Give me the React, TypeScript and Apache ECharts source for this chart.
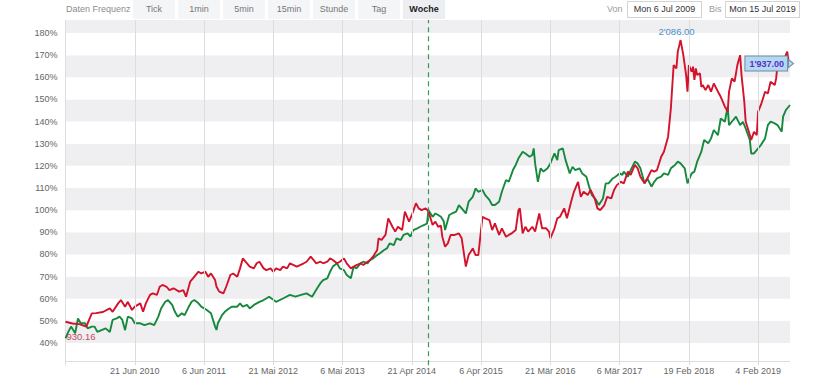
import React, { useEffect, useRef } from "react";
import * as echarts from "echarts";

// ---- data -----------------------------------------------------------
const xTickLabels = [
  "21 Jun 2010",
  "6 Jun 2011",
  "21 Mai 2012",
  "6 Mai 2013",
  "21 Apr 2014",
  "6 Apr 2015",
  "21 Mär 2016",
  "6 Mär 2017",
  "19 Feb 2018",
  "4 Feb 2019",
];
const tickStepWeeks = 50;
const lastWeek = 523;
const markerWeek = 262;
const yLabelMin = 40;
const yLabelMax = 180;

const frequencies = ["Tick", "1min", "5min", "15min", "Stunde", "Tag", "Woche"];
const activeFrequency = "Woche";
const fromDate = "Mon 6 Jul 2009";
const toDate = "Mon 15 Jul 2019";

const peakLabel = "2'086.00";
const lastLabel = "1'937.00";
const startLabel = "930.16";

// [week index, percent]
const redSeries: [number, number][] = [
  [0, 49.6], [5, 48.8], [10, 48.5], [15, 47.4], [19, 53.4], [22, 53.5], [27, 54], [32, 55.6],
  [34, 54.1], [38, 57.9], [40, 59.4], [43, 56.4], [45, 58.6], [48, 54.9], [50, 56.4], [54, 57.9],
  [56, 54.1], [58, 57.9], [61, 61.7], [63, 62.4], [66, 61.7], [68, 65.4], [70, 66.2], [73, 65.4],
  [75, 63.9], [78, 64.7], [82, 63.2], [85, 63.9], [87, 60.9], [90, 67.7], [92, 69.2], [96, 72.2],
  [98, 71.4], [101, 72.2], [103, 69.9], [105, 71.4], [108, 68.4], [109, 65.4], [111, 63.2], [114, 62.4],
  [116, 65.4], [119, 70.7], [121, 71.4], [124, 69.9], [126, 73.7], [128, 78.2], [131, 76], [133, 74.5],
  [136, 73.7], [138, 76], [140, 76.7], [143, 73.7], [145, 72.9], [148, 73.7], [150, 72.2], [152, 73.7],
  [155, 72.9], [157, 74.5], [160, 73.7], [162, 76], [167, 74.5], [172, 76], [174, 76.7], [177, 79],
  [179, 77.5], [181, 76], [184, 76.7], [186, 76], [189, 76.7], [191, 78.2], [193, 77.5], [196, 76],
  [198, 76.7], [201, 78.2], [203, 76], [206, 73.7], [208, 74.5], [210, 75.2], [213, 76], [215, 75.2],
  [218, 76.7], [220, 77.5], [222, 79], [225, 82], [226, 87.3], [228, 86.5], [231, 88.8], [233, 96.3],
  [236, 92.5], [238, 90.3], [240, 92.5], [243, 91], [245, 99.3], [248, 94.8], [250, 97.8], [253, 103.1],
  [255, 100.8], [257, 100], [260, 100.8], [262, 99.5], [265, 93.3], [267, 94.8], [269, 92.5], [271, 93],
  [272, 88], [274, 83.5], [276, 85], [278, 88.8], [281, 88.8], [284, 89.5], [286, 87.3], [289, 74.5],
  [291, 79.7], [294, 82.7], [296, 79.7], [298, 79.7], [301, 97], [303, 96.3], [306, 95.5], [308, 91],
  [310, 94], [313, 88.8], [315, 91.8], [318, 88], [320, 88.8], [322, 89.5], [325, 91], [327, 100],
  [328, 100.8], [330, 89.5], [332, 92.5], [334, 90.3], [337, 92.5], [339, 90.3], [342, 98.5], [344, 91.8],
  [347, 91.8], [349, 90.3], [350, 87.3], [353, 91.8], [355, 96.3], [357, 97], [360, 100.8], [362, 96.3],
  [365, 103.8], [367, 108.3], [370, 112.8], [372, 106], [374, 108.3], [377, 106.8], [379, 109.1], [382, 105.3],
  [384, 100.8], [386, 100], [389, 102.3], [391, 106], [394, 105.3], [396, 109.1], [398, 111.3], [401, 112.8],
  [403, 112.1], [406, 117.4], [408, 115.9], [411, 120.4], [413, 118.9], [415, 115.1], [418, 112.1], [420, 114.3],
  [423, 118.1], [425, 117.4], [427, 118.1], [430, 124.1], [432, 126.4], [435, 133.2], [437, 146], [439, 165.5],
  [441, 164], [442, 171.6], [444, 176.8], [446, 170], [448, 161], [449, 153.5], [450, 165.5], [452, 162.5],
  [453, 164.8], [454, 158.8], [455, 164], [456, 161], [458, 161.8], [459, 155.7], [460, 156.5], [462, 154.2],
  [464, 156.5], [466, 153.5], [468, 157.2], [471, 153.5], [473, 151.2], [476, 146.7], [478, 144.5], [479, 153.5],
  [481, 159.5], [483, 158], [485, 165.5], [487, 170], [488, 161], [490, 149], [491, 140], [494, 133.9],
  [495, 131.7], [497, 135.4], [499, 133.9], [500, 144.5], [502, 147.5], [505, 153.5], [507, 152.7], [509, 158],
  [512, 156.5], [513, 159.5], [514, 165.5], [517, 169.3], [519, 168.5], [521, 171.6], [522, 167], [523, 166.2],
];

const greenSeries: [number, number][] = [
  [0, 42.1], [2, 45], [4, 47.4], [7, 44.4], [9, 51.1], [11, 48.9], [14, 48.9], [16, 46.6],
  [19, 47.4], [21, 47.4], [23, 45], [26, 45.8], [29, 46.6], [32, 45], [34, 50.4], [37, 51.1],
  [39, 51.9], [41, 50.4], [43, 45.8], [45, 51.9], [48, 51.1], [50, 48.9], [54, 48.9], [57, 48.1],
  [61, 48.9], [64, 48.1], [67, 51.9], [69, 55.6], [72, 58.6], [74, 59.4], [77, 57.2], [79, 54.1],
  [81, 51.9], [84, 53.4], [86, 52.6], [89, 56.4], [91, 58.6], [93, 59.4], [96, 57.9], [98, 56.4],
  [102, 54.9], [105, 53.4], [108, 47.4], [109, 45.9], [110, 48.9], [113, 52.6], [115, 54.1], [118, 55.6],
  [120, 56.4], [124, 56.4], [126, 57.9], [128, 56.4], [131, 57.2], [133, 55.6], [136, 57.2], [138, 57.9],
  [140, 58.6], [143, 59.4], [147, 60.9], [152, 58.6], [157, 60.1], [162, 61.7], [166, 60.9], [170, 61.7],
  [174, 62.4], [178, 60.9], [181, 64], [184, 67], [186, 68.4], [189, 69.2], [191, 72.2], [193, 74.5],
  [196, 76], [198, 73.7], [201, 72.9], [203, 70.7], [206, 69.2], [208, 74.5], [210, 73.7], [213, 76],
  [215, 76.7], [218, 76], [220, 77.5], [222, 78.2], [225, 79.7], [227, 80.5], [230, 82], [232, 82.7],
  [234, 85], [237, 84.2], [239, 87.3], [242, 86.5], [244, 88.8], [247, 89.5], [249, 88], [251, 91],
  [254, 91.8], [256, 92.5], [259, 93.3], [261, 94], [262, 100], [265, 97], [267, 98.5], [269, 97.8],
  [271, 97], [273, 95], [274, 91], [277, 97.8], [279, 98.5], [282, 99.3], [284, 102.3], [286, 100.8],
  [289, 98.5], [291, 103.8], [294, 106], [296, 109.8], [298, 108.3], [301, 109.1], [303, 106.8], [306, 104.6],
  [308, 102.3], [310, 102.3], [313, 103.8], [315, 108.3], [318, 113.6], [320, 112.8], [323, 118.1], [325, 120.4],
  [327, 123.4], [330, 126.4], [332, 125.6], [335, 124.1], [337, 124.9], [338, 127.9], [339, 121.1], [341, 112.8],
  [343, 118.9], [345, 117.4], [348, 118.9], [350, 121.1], [353, 125.6], [355, 122.6], [356, 127.1], [359, 127.9],
  [361, 122.6], [364, 116.6], [366, 119.6], [368, 118.1], [371, 118.9], [373, 116.6], [376, 115.1], [378, 110.6],
  [380, 106.8], [383, 104.6], [385, 102.3], [388, 105.3], [390, 112.1], [392, 112.1], [395, 114.3], [397, 115.1],
  [400, 116.6], [402, 115.9], [403, 117.4], [406, 115.1], [408, 118.1], [411, 121.9], [413, 121.1], [415, 118.9],
  [418, 112.1], [420, 114.3], [423, 110.6], [425, 112.8], [427, 114.3], [430, 115.1], [432, 116.6], [435, 115.9],
  [437, 118.9], [440, 120.4], [442, 121.9], [444, 121.1], [447, 118.9], [449, 112.1], [452, 116.6], [454, 117.4],
  [456, 121.9], [459, 126.4], [461, 131.7], [464, 130.2], [466, 132.4], [468, 136.2], [471, 133.9], [473, 141.4],
  [476, 139.9], [478, 146.7], [479, 138.4], [482, 140.7], [484, 142.2], [487, 138.4], [489, 139.9], [491, 136.9],
  [494, 131.7], [495, 125.6], [497, 125.6], [500, 127.9], [502, 129.4], [505, 132.4], [507, 138.4], [509, 140],
  [512, 139.2], [514, 138.4], [517, 135.4], [518, 142.2], [520, 145.2], [522, 146.7], [523, 147.5],
];

// ---- styles -----------------------------------------------------------
const FONT = "'Liberation Sans', Arial, Helvetica, sans-serif";
const RED = "#d3122c";
const GREEN = "#16893c";

function peakPoint(data: [number, number][]) {
  let best = data[0];
  for (const p of data) if (p[1] > best[1]) best = p;
  return best;
}

export default function App() {
  const ref = useRef<HTMLDivElement>(null);

  useEffect(() => {
    if (!ref.current) return;
    const chart = echarts.init(ref.current, undefined, { renderer: "svg" });
    const tickWeeks = xTickLabels.map((_, i) => (i + 1) * tickStepWeeks);
    const peak = peakPoint(redSeries);
    const lastRed = redSeries[redSeries.length - 1];
    const firstGreen = greenSeries[0];

    chart.setOption({
      animation: false,
      textStyle: { fontFamily: FONT },
      grid: { left: 65.5, top: 10.86, width: 724.5, height: 354.28, containLabel: false },
      xAxis: {
        type: "value",
        min: 0,
        max: lastWeek,
        interval: tickStepWeeks,
        axisLine: { show: false },
        axisTick: { show: false },
        splitLine: { show: false },
        axisLabel: {
          margin: 1,
          fontSize: 9,
          color: "#666",
          fontFamily: FONT,
          formatter: (v: number) => {
            const i = v / tickStepWeeks;
            if (v > 0 && Number.isInteger(i) && i <= xTickLabels.length) return xTickLabels[i - 1];
            return "";
          },
        },
      },
      yAxis: {
        type: "value",
        min: 30,
        max: 190,
        interval: 10,
        axisLine: { show: true, lineStyle: { color: "#dddddd" } },
        axisTick: { show: false },
        splitLine: { show: false },
        splitArea: { show: true, areaStyle: { color: ["#ffffff", "#efeff1"] } },
        axisLabel: {
          margin: 8,
          fontSize: 9,
          color: "#666",
          fontFamily: FONT,
          formatter: (v: number) => (v >= yLabelMin && v <= yLabelMax ? v + "%" : ""),
        },
      },
      series: [
        {
          type: "line",
          name: "gridlines",
          data: [],
          z: 1,
          silent: true,
          markLine: {
            silent: true,
            symbol: "none",
            label: { show: false },
            lineStyle: { color: "#dcdcdc", width: 1, type: "solid" },
            data: [...tickWeeks.map((w) => ({ xAxis: w })), { yAxis: 31.55 }],
          },
        },
        {
          type: "line",
          name: "red",
          data: redSeries,
          showSymbol: false,
          symbol: "none",
          z: 3,
          lineStyle: { color: RED, width: 1.9 },
          itemStyle: { color: RED },
          markPoint: {
            silent: true,
            symbol: "circle",
            symbolSize: 0,
            data: [
              {
                coord: peak,
                label: {
                  show: true,
                  position: "top",
                  distance: 4,
                  offset: [-4, 0],
                  formatter: peakLabel,
                  color: "#4a90c8",
                  fontSize: 9.5,
                  fontFamily: FONT,
                },
              },
              {
                coord: lastRed,
                symbol: "triangle",
                symbolSize: [8, 5],
                symbolRotate: -90,
                symbolOffset: [1, 0],
                itemStyle: { color: "#b3d9f2", borderColor: "#6d8aa3", borderWidth: 1 },
                label: {
                  show: true,
                  position: "left",
                  distance: 1,
                  formatter: lastLabel,
                  color: "#5a2dc8",
                  fontWeight: "bold",
                  fontSize: 9,
                  fontFamily: FONT,
                  backgroundColor: "#b3d9f2",
                  borderColor: "#6d8aa3",
                  borderWidth: 1,
                  padding: [3, 3, 2, 4],
                },
              },
            ],
          },
        },
        {
          type: "line",
          name: "green",
          data: greenSeries,
          showSymbol: false,
          symbol: "none",
          z: 2,
          lineStyle: { color: GREEN, width: 1.9 },
          itemStyle: { color: GREEN },
          markLine: {
            silent: true,
            symbol: "none",
            label: { show: false },
            lineStyle: { color: "#2f9e5a", width: 1.2, type: [5, 4] },
            data: [{ xAxis: markerWeek }],
          },
          markPoint: {
            silent: true,
            symbol: "circle",
            symbolSize: 0,
            data: [
              {
                coord: [firstGreen[0], firstGreen[1] + 1],
                label: {
                  show: true,
                  position: "right",
                  distance: 1,
                  formatter: startLabel,
                  color: "#c24a5c",
                  fontSize: 9.5,
                  fontFamily: FONT,
                },
              },
            ],
          },
        },
      ],
    });
    return () => chart.dispose();
  }, []);

  const btnStyle = (active: boolean, i: number): React.CSSProperties => ({
    position: "absolute",
    left: 133 + 45 * i,
    top: 0,
    width: 42,
    height: 19,
    lineHeight: "19px",
    textAlign: "center",
    fontSize: 9,
    background: active ? "#eceef1" : "#f4f5f7",
    color: active ? "#222" : "#777",
    fontWeight: active ? "bold" : "normal",
  });

  const boxStyle = (left: number): React.CSSProperties => ({
    position: "absolute",
    left,
    top: 1,
    width: 75,
    height: 17,
    boxSizing: "border-box",
    border: "1px solid #d4d4d4",
    lineHeight: "15px",
    textAlign: "center",
    fontSize: 9,
    color: "#333",
    background: "#fff",
  });

  return (
    <div
      style={{
        position: "fixed",
        left: 0,
        top: 0,
        width: 830,
        height: 379,
        background: "#fff",
        fontFamily: FONT,
        overflow: "hidden",
      }}
    >
      <div ref={ref} style={{ position: "absolute", left: 0, top: 0, width: 830, height: 379 }} />
      <div
        style={{
          position: "absolute",
          left: 0,
          top: 0,
          width: 830,
          height: 20,
          background: "#fff",
          zIndex: 2,
        }}
      >
        <div style={{ position: "absolute", left: 66, top: 0, height: 19, lineHeight: "19px", fontSize: 9, color: "#8c8c8c" }}>
          Daten Frequenz
        </div>
        {frequencies.map((f, i) => (
          <div key={f} style={btnStyle(f === activeFrequency, i)}>
            {f}
          </div>
        ))}
        <div style={{ position: "absolute", left: 607, top: 0, height: 19, lineHeight: "19px", fontSize: 9, color: "#9a9a9a" }}>
          Von
        </div>
        <div style={boxStyle(627)}>{fromDate}</div>
        <div style={{ position: "absolute", left: 709, top: 0, height: 19, lineHeight: "19px", fontSize: 9, color: "#9a9a9a" }}>
          Bis
        </div>
        <div style={boxStyle(725)}>{toDate}</div>
      </div>
    </div>
  );
}
